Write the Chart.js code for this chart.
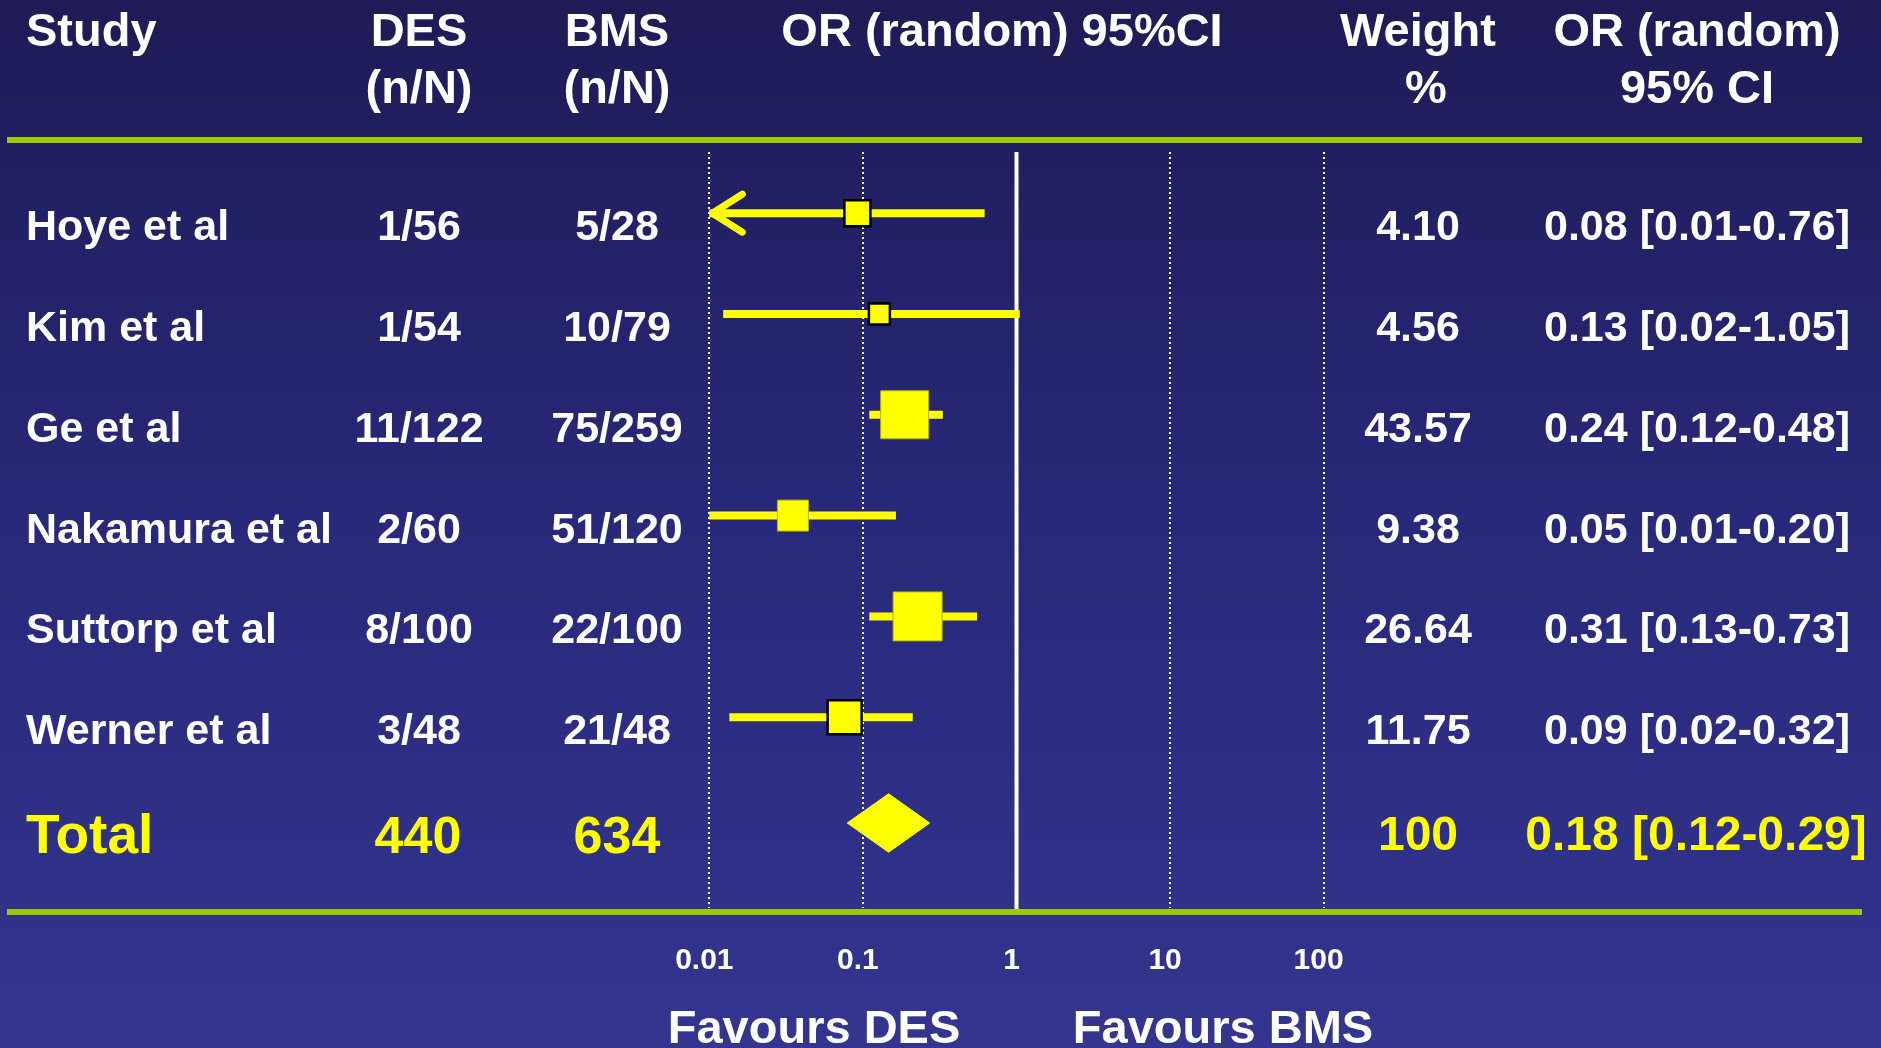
<!DOCTYPE html>
<html>
<head>
<meta charset="utf-8">
<title>Forest plot DES vs BMS</title>
<script src="https://cdn.jsdelivr.net/npm/chart.js@4.4.0/dist/chart.umd.min.js"></script>
<style>
  html, body { margin: 0; padding: 0; background: #28297a; overflow: hidden; }
  #wrap { position: relative; width: 1881px; height: 1048px; }
</style>
</head>
<body>
<div id="wrap"><canvas id="forest"></canvas></div>
<script>
// Table text
const headerTop = ['Study', 'DES', 'BMS', 'OR (random) 95%CI', 'Weight', 'OR (random)'];
const headerBottom = ['', '(n/N)', '(n/N)', '', '%', '95% CI'];
const studies = ['Hoye et al', 'Kim et al', 'Ge et al', 'Nakamura et al', 'Suttorp et al', 'Werner et al'];
const desCounts = ['1/56', '1/54', '11/122', '2/60', '8/100', '3/48'];
const bmsCounts = ['5/28', '10/79', '75/259', '51/120', '22/100', '21/48'];
const weights = ['4.10', '4.56', '43.57', '9.38', '26.64', '11.75'];
const orLabels = ['0.08 [0.01-0.76]', '0.13 [0.02-1.05]', '0.24 [0.12-0.48]', '0.05 [0.01-0.20]', '0.31 [0.13-0.73]', '0.09 [0.02-0.32]'];
const totalRow = ['Total', '440', '634', '100', '0.18 [0.12-0.29]'];
const favours = ['Favours DES', 'Favours BMS'];

// Plotted odds ratios
const orPlot = [0.092, 0.128, 0.187, 0.035, 0.227, 0.076];
const ciLow = [0.01, 0.0123, 0.110, 0.01, 0.110, 0.0135];
const ciHigh = [0.62, 1.05, 0.331, 0.164, 0.554, 0.211];
const truncated = [true, false, false, false, false, false];
const totalPlot = 0.147;
const totalLow = 0.079;
const totalHigh = 0.272;

// Axis ticks
const tickValues = [0.01, 0.1, 1, 10, 100];
const tickLabels = ['0.01', '0.1', '1', '10', '100'];

// styling
const FONT = '"Liberation Sans", Arial, Helvetica, sans-serif';
const YELLOW = '#ffff00';
const GREEN = '#99cc00';
const markerPx = [26, 21, 48, 31, 49, 34];
const markerEdge = ['#000000', '#000000', '#b5b000', '#b5b000', '#b5b000', '#000000'];
const markerEdgeW = [2.5, 2.5, 1, 1, 1, 2.5];
const Y_MIN = -0.607, Y_MAX = 6.893;
const totalIdx = studies.length;
const diamondY = totalIdx + 0.05;

Chart.defaults.font.family = FONT;

function txt(ctx, s, x, y, size, color, align) {
  ctx.font = 'bold ' + size + 'px ' + FONT;
  ctx.fillStyle = color;
  ctx.textAlign = align;
  ctx.textBaseline = 'alphabetic';
  ctx.fillText(s, x, y);
}

// dark blue slide background
const backdrop = {
  id: 'backdrop',
  beforeDraw(chart) {
    const { ctx, width, height } = chart;
    const g = ctx.createLinearGradient(0, 0, 0, height);
    g.addColorStop(0, '#1e1b56');
    g.addColorStop(0.5, '#28297a');
    g.addColorStop(1, '#33358f');
    ctx.save();
    ctx.fillStyle = g;
    ctx.fillRect(0, 0, width, height);
    ctx.restore();
  }
};

// table columns, rules, arrow heads
const forestTable = {
  id: 'forestTable',
  afterDatasetsDraw(chart) {
    const { ctx } = chart;
    const xs = chart.scales.x, ys = chart.scales.y;
    ctx.save();

    // arrow for CI running off the axis
    ctx.strokeStyle = YELLOW;
    ctx.lineWidth = 7;
    ctx.lineCap = 'round';
    ctx.lineJoin = 'round';
    truncated.forEach((t, i) => {
      if (!t) return;
      const x0 = xs.getPixelForValue(ciLow[i]) + 3;
      const y0 = ys.getPixelForValue(i);
      ctx.beginPath();
      ctx.moveTo(x0 + 30, y0 - 19);
      ctx.lineTo(x0, y0);
      ctx.lineTo(x0 + 30, y0 + 19);
      ctx.stroke();
    });

    // green rules
    ctx.fillStyle = GREEN;
    ctx.fillRect(7, 137, 1855, 6);
    ctx.fillRect(7, 909, 1855, 6);

    // header
    const colX = [26, 419, 617, 1002, 1418, 1697];
    const colX2 = [26, 419, 617, 1002, 1426, 1697];
    headerTop.forEach((h, c) => txt(ctx, h, colX[c], 46, 47, '#ffffff', c === 0 ? 'left' : 'center'));
    headerBottom.forEach((h, c) => { if (h) txt(ctx, h, colX2[c], 103, 47, '#ffffff', 'center'); });

    // study rows
    studies.forEach((s, i) => {
      const y = ys.getPixelForValue(i) + 27;
      txt(ctx, s, 26, y, 43, '#ffffff', 'left');
      txt(ctx, desCounts[i], 419, y, 43, '#ffffff', 'center');
      txt(ctx, bmsCounts[i], 617, y, 43, '#ffffff', 'center');
      txt(ctx, weights[i], 1418, y, 43, '#ffffff', 'center');
      txt(ctx, orLabels[i], 1697, y, 43, '#ffffff', 'center');
    });

    // total row
    const yt = ys.getPixelForValue(totalIdx);
    txt(ctx, totalRow[0], 26, yt + 35, 55, YELLOW, 'left');
    txt(ctx, totalRow[1], 418, yt + 35, 52, YELLOW, 'center');
    txt(ctx, totalRow[2], 617, yt + 35, 52, YELLOW, 'center');
    txt(ctx, totalRow[3], 1418, yt + 32, 48, YELLOW, 'center');
    txt(ctx, totalRow[4], 1696, yt + 32, 48, YELLOW, 'center');

    // favours labels
    txt(ctx, favours[0], 814, 1043, 47, '#ffffff', 'center');
    txt(ctx, favours[1], 1223, 1043, 47, '#ffffff', 'center');
    ctx.restore();
  }
};

const ciSets = studies.map((s, i) => ({
  label: s + ' CI',
  data: [{ x: ciLow[i], y: i }, { x: ciHigh[i], y: i }],
  borderColor: YELLOW,
  borderWidth: 8,
  borderCapStyle: 'butt',
  pointRadius: 0,
  order: 2
}));

const refLine = {
  label: 'OR = 1',
  data: [{ x: 1, y: Y_MIN }, { x: 1, y: 6.933 }],
  borderColor: '#ffffff',
  borderWidth: 4,
  pointRadius: 0,
  clip: false,
  order: 3
};

const boxes = {
  label: 'OR',
  data: studies.map((s, i) => ({ x: orPlot[i], y: i })),
  showLine: false,
  pointStyle: 'rect',
  pointRadius: markerPx.map(p => p / Math.SQRT2),
  backgroundColor: YELLOW,
  borderColor: markerEdge,
  borderWidth: markerEdgeW,
  order: 0
};

const diamond = {
  label: 'Total',
  data: [
    { x: totalLow, y: diamondY },
    { x: totalPlot, y: diamondY - 0.29 },
    { x: totalHigh, y: diamondY },
    { x: totalPlot, y: diamondY + 0.29 },
    { x: totalLow, y: diamondY }
  ],
  borderColor: YELLOW,
  backgroundColor: YELLOW,
  borderWidth: 1,
  fill: 'shape',
  tension: 0,
  pointRadius: 0,
  order: 0
};

new Chart(document.getElementById('forest'), {
  type: 'line',
  data: { datasets: [...ciSets, refLine, boxes, diamond] },
  options: {
    responsive: true,
    maintainAspectRatio: false,
    animation: false,
    events: [],
    layout: { padding: { left: 694, right: 542, top: 152, bottom: 0 } },
    plugins: {
      legend: { display: false },
      tooltip: { enabled: false }
    },
    scales: {
      x: {
        type: 'logarithmic',
        min: Math.pow(10, -2.1),
        max: Math.pow(10, 2.1),
        afterBuildTicks: s => { s.ticks = tickValues.map(v => ({ value: v })); },
        afterFit: s => { s.height = 140; },
        grid: {
          color: c => (c.tick && c.tick.value === 1) ? 'rgba(0,0,0,0)' : '#ffffff',
          lineWidth: 2,
          drawTicks: false
        },
        border: { display: false, dash: [2, 3] },
        ticks: {
          color: '#ffffff',
          font: { size: 30, weight: 'bold' },
          padding: 35,
          labelOffset: -5,
          autoSkip: false,
          maxRotation: 0,
          callback: (v, i) => tickLabels[i]
        }
      },
      y: {
        type: 'linear',
        min: Y_MIN,
        max: Y_MAX,
        reverse: true,
        display: false
      }
    }
  },
  plugins: [backdrop, forestTable]
});
</script>
</body>
</html>
